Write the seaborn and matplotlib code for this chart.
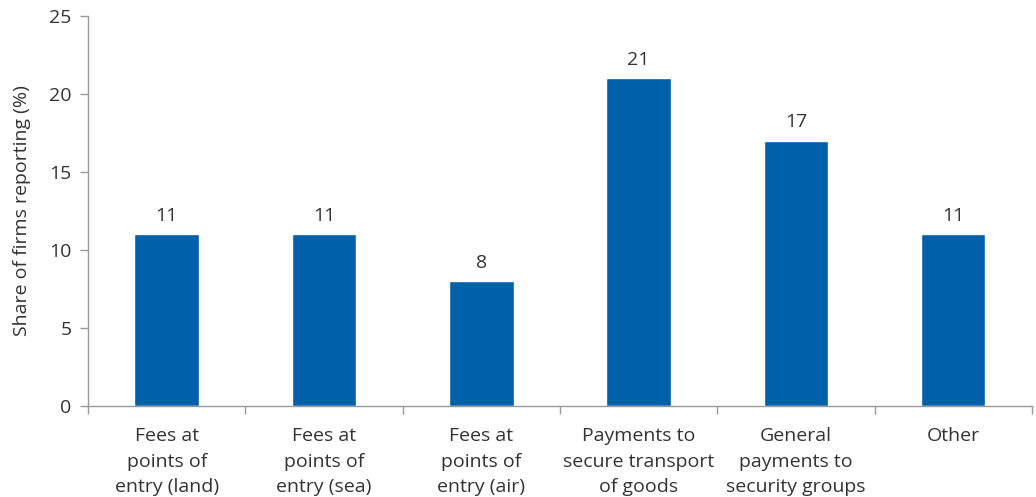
import matplotlib
matplotlib.use("Agg")
import matplotlib.pyplot as plt
import seaborn as sns
import pandas as pd
import numpy as np

categories = [
    "Fees at\npoints of\nentry (land)",
    "Fees at\npoints of\nentry (sea)",
    "Fees at\npoints of\nentry (air)",
    "Payments to\nsecure transport\nof goods",
    "General\npayments to\nsecurity groups",
    "Other",
]
shares = [11, 11, 8, 21, 17, 11]
y_ticks = [0, 5, 10, 15, 20, 25]

sns.set_theme(style="white")
plt.rcParams["font.family"] = ["Open Sans", "DejaVu Sans"]

df = pd.DataFrame({"category": categories, "share": shares})

fig = plt.figure(figsize=(10.36, 4.97), dpi=100)
ax = fig.add_axes([0.085, 0.183, 0.911, 0.785])

sns.barplot(data=df, x="category", y="share", color="#0061AA",
            saturation=1, width=0.41, ax=ax)

for i, v in enumerate(shares):
    ax.text(i, v + 0.6, f"{v}", ha="center", va="bottom",
            fontsize=14, color="#333333")

ax.set_xlim(-0.5, len(categories) - 0.5)
ax.set_ylim(0, 25)
ax.set_yticks(y_ticks)
ax.set_ylabel("Share of firms reporting (%)", fontsize=14, color="#333333",
              labelpad=13)
ax.set_xlabel("")

# category boundaries get the tick marks, labels sit centered without marks
ax.set_xticks(np.arange(-0.5, len(categories)), minor=True)
ax.tick_params(axis="x", which="minor", bottom=True, length=6, width=1,
               color="#999999", direction="out")
ax.tick_params(axis="x", which="major", bottom=False, length=0, pad=15,
               labelsize=14, labelcolor="#333333")
for lbl in ax.get_xticklabels():
    lbl.set_linespacing(1.55)
ax.tick_params(axis="y", left=True, length=6, width=1, color="#999999",
               direction="out", labelsize=14, labelcolor="#333333", pad=6)

for side in ["top", "right"]:
    ax.spines[side].set_visible(False)
for side in ["left", "bottom"]:
    ax.spines[side].set_color("#999999")
    ax.spines[side].set_linewidth(1)

fig.savefig("out.png", dpi=100)
